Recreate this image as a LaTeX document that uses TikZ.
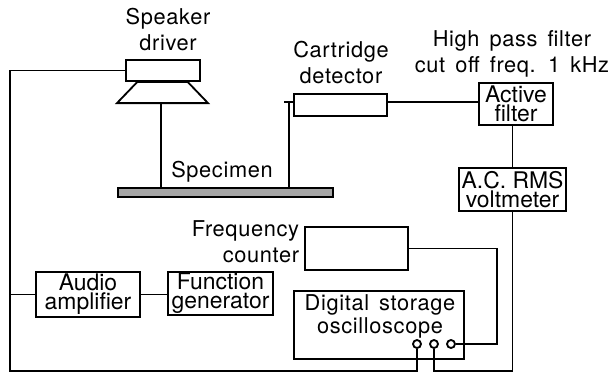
\documentclass[tikz,border=0pt]{standalone}
\usepackage{fontspec}
\setmainfont{TeX Gyre Heros}
\newfontfamily\annfont[LetterSpace=3,WordSpace=1.5]{TeX Gyre Heros}
\usetikzlibrary{positioning,shapes.geometric}

\begin{document}
\begin{tikzpicture}[
  x=0.25mm, y=-0.25mm,
  line width=1.3pt,
  box/.style={
    draw, inner sep=0pt, align=center,
    font=\fontsize{16.3}{13.5}\selectfont,
  },
  ann/.style={
    inner sep=0pt, align=center,
    font=\annfont\fontsize{15.5}{18.5}\selectfont,
  },
  port/.style={draw, circle, inner sep=0pt, minimum size=2mm, fill=white},
  wire/.style={line width=1.3pt},
]
\useasboundingbox (0,0) rectangle (609,373);

% speaker
\node[box, minimum width=18.5mm, minimum height=5.3mm] (spk) at (163,70.5) {};
\node[draw, trapezium, trapezium angle=68, trapezium stretches=true, inner sep=1pt,
      minimum width=22.75mm, minimum height=5.3mm] (cone) at (162.5,92.5) {};
\node[draw, fill=black!35, inner sep=0pt, minimum width=53.75mm, minimum height=2.2mm] (plate) at (225.5,192.5) {};

% boxes
\node[box, minimum width=23.25mm, minimum height=5.4mm] (cart) at (340.5,105) {};
\node[box, minimum width=18.5mm, minimum height=10.7mm] (filter) at (516,104) {Active\\filter};
\node[box, minimum width=26.75mm, minimum height=10.7mm] (volt) at (512.5,189.5) {A.C. RMS\\voltmeter};
\node[box, minimum width=25.75mm, minimum height=10.7mm] (freq) at (356.5,248.5) {};
\node[box, minimum width=42.5mm, minimum height=17mm] (osc) at (379,325) {};
\node[box, minimum width=26mm, minimum height=11.2mm] (amp) at (88,294.5) {Audio\\amplifier};
\node[box, minimum width=26.25mm, minimum height=10.8mm] (gen) at (220.5,293.5) {Function\\generator};

% ports
\node[port] (pa) at (417,344) {};
\node[port] (pb) at (434,344) {};
\node[port] (pc) at (451,344) {};

% labels
\node[ann] (spklabel) at (168,29.5) {Speaker\\driver};
\node[ann] (cartlabel) at (341,63) {Cartridge\\detector};
\node[ann] (hplabel) at (512,54) {High pass filter\\cut off freq. 1 kHz};
\node[ann] (speclabel) at (222,172) {Specimen};
\node[ann, anchor=east, align=right] (freqlabel) at (300,241.5) {Frequency\\counter};
\node[ann, font=\annfont\fontsize{15.5}{16.5}\selectfont] (osclabel) at (380,316.5) {Digital storage\\oscilloscope};

\coordinate (leftcnr) at (10,371);
\coordinate (rightcnr) at (512.5,371);
\coordinate (freqcnr) at (497,300);
\coordinate (conestem) at (161,103);
\coordinate (cartstub) at (284,102);
\coordinate (cartpin) at (289,102);
\coordinate (cartend) at (294,102);
\coordinate (cartout) at (387,102);

\draw[wire] (spk.west) -| (leftcnr) -| (pa.south);
\draw[wire] (amp.west) -- (amp.west -| leftcnr);
\draw[wire] (amp.east) -- (gen.west |- amp.east);
\draw[wire] (conestem) -- (conestem |- plate.north);
\draw[wire] (cartstub) -- (cartend);
\draw[wire] (cartpin) -- (cartpin |- plate.north);
\draw[wire] (cartout) -- (cartout -| filter.west);
\draw[wire] (filter.south -| volt.south) -- (volt.north);
\draw[wire] (volt.south) -- (rightcnr) -| (pb.south);
\draw[wire] (freq.east) -| (freqcnr) |- (pc.east);

\end{tikzpicture}
\end{document}
